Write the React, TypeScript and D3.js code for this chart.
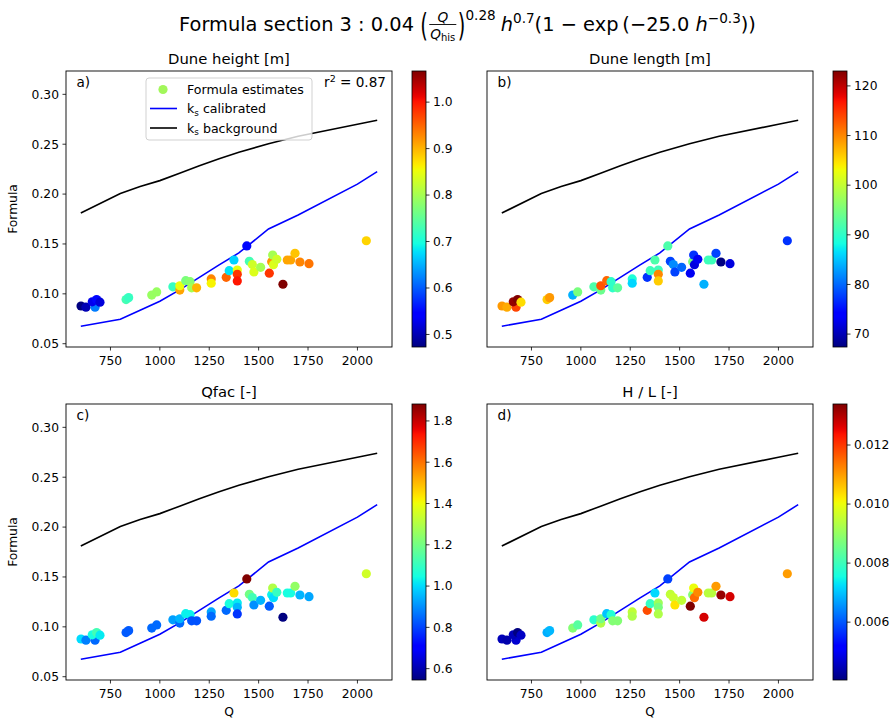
import React, { useEffect, useRef } from "react";
import * as d3 from "d3";

const W = 893;
const H = 720;

// ---- data ----
const pointQ = [601, 626, 672, 658, 680, 697, 829, 842, 959, 984, 1066, 1101, 1101, 1131, 1153, 1161, 1186, 1260, 1260, 1336, 1351, 1375, 1392, 1392, 1392, 1440, 1453, 1468, 1476, 1510, 1554, 1566, 1571, 1575, 1592, 1623, 1645, 1662, 1684, 1709, 1755, 2045];
const pointFormula = [0.0878, 0.0866, 0.0866, 0.092, 0.0942, 0.0916, 0.0942, 0.0962, 0.0988, 0.1019, 0.107, 0.1038, 0.1081, 0.1132, 0.1122, 0.106, 0.106, 0.1149, 0.1106, 0.1166, 0.1232, 0.1339, 0.1239, 0.1196, 0.1129, 0.148, 0.1326, 0.1293, 0.1219, 0.1266, 0.1207, 0.1322, 0.1389, 0.1292, 0.1346, 0.1096, 0.1339, 0.1339, 0.1406, 0.1319, 0.1302, 0.1532];
const duneHeight = [0.473, 0.5, 0.62, 0.53, 0.55, 0.52, 0.73, 0.72, 0.79, 0.79, 0.72, 0.91, 0.85, 0.77, 0.78, 0.8, 0.9, 0.93, 0.86, 0.95, 0.68, 0.67, 0.85, 0.98, 1.0, 0.55, 0.73, 0.83, 0.84, 0.8, 0.98, 0.92, 0.8, 0.84, 0.83, 1.067, 0.91, 0.91, 0.89, 0.93, 0.94, 0.88];
const duneLength = [109, 108, 114, 122, 123, 105, 106, 109, 84, 95, 92, 94, 113, 112, 90, 90, 93, 89, 86, 77, 91, 92, 91, 110, 106, 92, 78, 82, 78, 80, 73, 95, 77, 72, 73, 84, 91, 91, 78, 67.4, 72, 77];
const qfac = [1.0, 0.88, 0.85, 1.05, 1.12, 1.02, 0.83, 0.83, 0.85, 0.85, 0.92, 0.85, 0.95, 1.03, 1.03, 0.82, 0.82, 0.93, 0.85, 0.85, 1.05, 1.45, 1.02, 0.95, 0.78, 1.882, 1.2, 1.12, 0.9, 0.95, 0.83, 1.03, 1.3, 1.0, 1.1, 0.545, 1.05, 1.05, 1.25, 0.95, 0.93, 1.35];
const hOverL = [0.0045, 0.0044, 0.0047, 0.0045, 0.00404, 0.0046, 0.0068, 0.0069, 0.0088, 0.0083, 0.0078, 0.0093, 0.0086, 0.007, 0.0077, 0.0088, 0.0088, 0.0095, 0.0093, 0.0118, 0.0079, 0.0072, 0.0091, 0.0087, 0.0093, 0.0058, 0.0095, 0.0096, 0.0103, 0.0095, 0.01339, 0.0088, 0.01, 0.0115, 0.0112, 0.0127, 0.0094, 0.0094, 0.011, 0.0132, 0.0127, 0.011];

const lineQ = [600, 800, 900, 1000, 1100, 1200, 1300, 1400, 1550, 1700, 2000, 2100];
const ksCalibrated = [0.0675, 0.0745, 0.0835, 0.0925, 0.1040, 0.1165, 0.1290, 0.1410, 0.1650, 0.1790, 0.2100, 0.2225];
const ksBackground = [0.181, 0.2005, 0.2075, 0.2135, 0.2210, 0.2285, 0.2355, 0.2420, 0.2505, 0.2580, 0.2700, 0.2740];

const xTicks = [750, 1000, 1250, 1500, 1750, 2000];
const yTicks = [0.05, 0.1, 0.15, 0.2, 0.25, 0.3];
const panelTitles = ["Dune height [m]", "Dune length [m]", "Qfac [-]", "H / L [-]"];
const panelLetters = ["a)", "b)", "c)", "d)"];
const cbTicksA = [0.5, 0.6, 0.7, 0.8, 0.9, 1.0];
const cbTicksB = [70, 80, 90, 100, 110, 120];
const cbTicksC = [0.6, 0.8, 1.0, 1.2, 1.4, 1.6, 1.8];
const cbTicksD = [0.006, 0.008, 0.01, 0.012];
const legendLabels = ["Formula estimates", "calibrated", "background"];
const r2Text = "0.87";

// ---- jet colormap ----
const jetR = d3.scaleLinear().domain([0, 0.35, 0.66, 0.89, 1]).range([0, 0, 1, 1, 0.5]).clamp(true);
const jetG = d3.scaleLinear().domain([0, 0.125, 0.375, 0.64, 0.91, 1]).range([0, 0, 1, 1, 0, 0]).clamp(true);
const jetB = d3.scaleLinear().domain([0, 0.11, 0.34, 0.65, 1]).range([0.5, 1, 1, 0, 0]).clamp(true);
function jet(t: number) {
  return d3.rgb(255 * jetR(t), 255 * jetG(t), 255 * jetB(t)).formatHex();
}

const FONT = "DejaVu Sans, sans-serif";
const TICK_FS = 12.3;

type PanelProps = {
  idx: number;
  left: number;
  top: number;
  colors: number[];
  cbTicks: number[];
  cbFmt: (v: number) => string;
  yLabels: boolean;
  xLabel: boolean;
  legend: boolean;
};

function Panel({ idx, left, top, colors, cbTicks, cbFmt, yLabels, xLabel, legend }: PanelProps) {
  const w = 326;
  const h = 276;
  const x = d3.scaleLinear().domain([525, 2175]).range([left, left + w]);
  const y = d3.scaleLinear().domain([0.0467, 0.3234]).range([top + h, top]);
  const ext = d3.extent(colors) as [number, number];
  const cnorm = d3.scaleLinear().domain(ext).range([0, 1]);
  const line = d3.line<number>().x((_, i) => x(lineQ[i])).y((d) => y(d));
  const cbLeft = left + 346;
  const cbW = 14;
  const cbY = d3.scaleLinear().domain(ext).range([top + h, top]);
  const gradId = `grad${idx}`;
  const stops = d3.range(0, 1.0001, 1 / 64);
  const fmtY = d3.format(".2f");
  return (
    <g>
      <defs>
        <linearGradient id={gradId} x1="0" y1="1" x2="0" y2="0">
          {stops.map((s, i) => (
            <stop key={i} offset={s} stopColor={jet(s)} />
          ))}
        </linearGradient>
        <clipPath id={`clip${idx}`}>
          <rect x={left} y={top} width={w} height={h} />
        </clipPath>
      </defs>
      <text x={left + w / 2} y={top - 7} textAnchor="middle" fontSize={14.8}>
        {panelTitles[idx]}
      </text>
      <g clipPath={`url(#clip${idx})`}>
        <path d={line(ksBackground) || ""} fill="none" stroke="#000" strokeWidth={1.6} />
        <path d={line(ksCalibrated) || ""} fill="none" stroke="#0000ff" strokeWidth={1.6} />
        {pointQ.map((q, i) => (
          <circle key={i} cx={x(q)} cy={y(pointFormula[i])} r={4.6} fill={jet(cnorm(colors[i]))} />
        ))}
      </g>
      <rect x={left} y={top} width={w} height={h} fill="none" stroke="#000" strokeWidth={0.9} />
      {xTicks.map((t) => (
        <g key={t}>
          <line x1={x(t)} x2={x(t)} y1={top + h} y2={top + h + 3.5} stroke="#000" strokeWidth={0.8} />
          <text x={x(t)} y={top + h + 18} textAnchor="middle" fontSize={TICK_FS}>
            {t}
          </text>
        </g>
      ))}
      {yLabels &&
        yTicks.map((t) => (
          <g key={t}>
            <line x1={left - 3.5} x2={left} y1={y(t)} y2={y(t)} stroke="#000" strokeWidth={0.8} />
            <text x={left - 7} y={y(t)} dy="0.35em" textAnchor="end" fontSize={TICK_FS}>
              {fmtY(t)}
            </text>
          </g>
        ))}
      {yLabels && (
        <text transform={`translate(${left - 49},${top + h / 2}) rotate(-90)`} textAnchor="middle" fontSize={TICK_FS}>
          Formula
        </text>
      )}
      {xLabel && (
        <text x={left + w / 2} y={top + h + 36} textAnchor="middle" fontSize={TICK_FS}>
          Q
        </text>
      )}
      <text x={left + 10.5} y={top + 16} fontSize={13.6}>
        {panelLetters[idx]}
      </text>
      {legend && (
        <g>
          <text x={left + w - 6} y={top + 16} textAnchor="end" fontSize={13.6}>
            r<tspan fontSize={9.5} dy={-5.5}>2</tspan>
            <tspan dy={5.5} style={{ whiteSpace: "pre" }}>{" = " + r2Text}</tspan>
          </text>
          <rect x={left + 80} y={top + 7} width={166} height={62} rx={3} fill="#fff" fillOpacity={0.8} stroke="#cccccc" strokeWidth={0.9} />
          <circle cx={left + 97} cy={top + 18.5} r={4.6} fill="#a2f75a" />
          <text x={left + 121} y={top + 23} fontSize={12.6}>{legendLabels[0]}</text>
          <line x1={left + 84} x2={left + 111} y1={top + 37.5} y2={top + 37.5} stroke="#0000ff" strokeWidth={1.6} />
          <text x={left + 121} y={top + 42} fontSize={12.6}>
            k<tspan fontSize={8.8} dy={2.5}>s</tspan>
            <tspan dy={-2.5} style={{ whiteSpace: "pre" }}>{" " + legendLabels[1]}</tspan>
          </text>
          <line x1={left + 84} x2={left + 111} y1={top + 57} y2={top + 57} stroke="#000" strokeWidth={1.6} />
          <text x={left + 121} y={top + 61.5} fontSize={12.6}>
            k<tspan fontSize={8.8} dy={2.5}>s</tspan>
            <tspan dy={-2.5} style={{ whiteSpace: "pre" }}>{" " + legendLabels[2]}</tspan>
          </text>
        </g>
      )}
      {/* colorbar */}
      <rect x={cbLeft} y={top} width={cbW} height={h} fill={`url(#${gradId})`} stroke="#000" strokeWidth={0.8} />
      {cbTicks.map((t) => (
        <g key={t}>
          <line x1={cbLeft + cbW} x2={cbLeft + cbW + 3.5} y1={cbY(t)} y2={cbY(t)} stroke="#000" strokeWidth={0.8} />
          <text x={cbLeft + cbW + 7} y={cbY(t)} dy="0.35em" fontSize={TICK_FS}>
            {cbFmt(t)}
          </text>
        </g>
      ))}
    </g>
  );
}

function Title() {
  const ref = useRef<SVGGElement>(null);
  useEffect(() => {
    const g = d3.select(ref.current);
    g.selectAll("*").remove();
    const base = 19.4;
    const sup = 13.6;
    let cx = 0;
    const put = (txt: string, size: number, dy: number, italic = false) => {
      const t = g
        .append("text")
        .attr("x", cx)
        .attr("y", dy)
        .attr("font-size", size)
        .attr("font-style", italic ? "italic" : "normal")
        .attr("style", "white-space:pre")
        .text(txt);
      const wdt = (t.node() as SVGTextElement).getComputedTextLength();
      cx += wdt;
      return wdt;
    };
    const bigParen = (p: string) => {
      const t = g
        .append("text")
        .attr("transform", `translate(${cx},5) scale(1,1.6)`)
        .attr("font-size", 19.5)
        .text(p);
      cx += (t.node() as SVGTextElement).getComputedTextLength();
    };
    put("Formula section 3 : 0.04 ", base, 0);
    bigParen("(");
    // fraction
    const fx = cx + 1.5;
    const numG = g.append("text").attr("font-size", sup).attr("font-style", "italic").attr("y", -9.5).text("Q");
    const numW = (numG.node() as SVGTextElement).getComputedTextLength();
    const den = g.append("text").attr("y", 7.5).attr("font-size", sup);
    den.append("tspan").attr("font-style", "italic").text("Q");
    den.append("tspan").attr("font-size", 10).attr("dy", 2).text("his");
    const denW = (den.node() as SVGTextElement).getComputedTextLength();
    const fw = Math.max(numW, denW) + 2;
    numG.attr("x", fx + (fw - numW) / 2);
    den.attr("x", fx + (fw - denW) / 2);
    g.append("line").attr("x1", fx).attr("x2", fx + fw).attr("y1", -6.5).attr("y2", -6.5).attr("stroke", "#000").attr("stroke-width", 0.9);
    cx = fx + fw + 1.5;
    bigParen(")");
    put("0.28", sup, -11.5);
    cx += 5;
    put("h", base, 0, true);
    put("0.7", sup, -8.5);
    put("(1 \u2212 exp\u2009(\u221225.0 ", base, 0);
    put("h", base, 0, true);
    put("\u22120.3", sup, -8.5);
    put("))", base, 0);
    g.attr("transform", `translate(${467.5 - cx / 2},31)`);
  }, []);
  return <g ref={ref} />;
}

export default function App() {
  const fmt1 = d3.format(".1f");
  const fmt0 = d3.format("d");
  const fmt3 = d3.format(".3f");
  return (
    <svg width={W} height={H} style={{ position: "absolute", left: 0, top: 0, background: "#fff" }} fontFamily={FONT}>
      <rect x={0} y={0} width={W} height={H} fill="#fff" />
      <Title />
      <Panel idx={0} left={66} top={71} colors={duneHeight} cbTicks={cbTicksA} cbFmt={fmt1} yLabels xLabel={false} legend />
      <Panel idx={1} left={487} top={71} colors={duneLength} cbTicks={cbTicksB} cbFmt={fmt0} yLabels={false} xLabel={false} legend={false} />
      <Panel idx={2} left={66} top={404} colors={qfac} cbTicks={cbTicksC} cbFmt={fmt1} yLabels xLabel legend={false} />
      <Panel idx={3} left={487} top={404} colors={hOverL} cbTicks={cbTicksD} cbFmt={fmt3} yLabels={false} xLabel legend={false} />
    </svg>
  );
}
